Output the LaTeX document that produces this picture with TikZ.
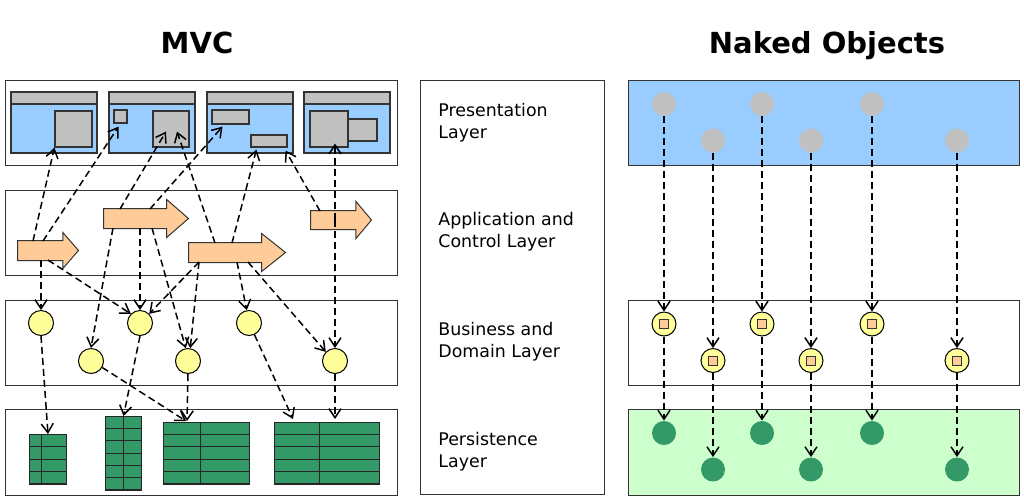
\documentclass[tikz,border=0pt]{standalone}
\usepackage{fontspec}
\setmainfont{DejaVu Sans}
\usetikzlibrary{arrows.meta,calc,shapes.arrows}
\definecolor{scrblue}{HTML}{99CCFF}
\definecolor{wgray}{HTML}{C0C0C0}
\definecolor{ctrlorange}{HTML}{FFCC99}
\definecolor{bizyellow}{HTML}{FFFF99}
\definecolor{dbgreen}{HTML}{339966}
\definecolor{palegreen}{HTML}{CCFFCC}
\begin{document}
\begin{tikzpicture}[x=0.5pt,y=-0.5pt,
  layer/.style={draw=black!80,line width=0.5pt},
  widget/.style={draw=black!80,fill=wgray,inner sep=0pt,line width=0.6pt},
  ctrl/.style={single arrow,draw=black!80,fill=ctrlorange,inner xsep=0pt,inner ysep=4.75pt,anchor=tail,line width=0.5pt},
  bizobj/.style={circle,draw=black,fill=bizyellow,inner sep=0pt,minimum size=12.5pt,line width=0.5pt},
  objcore/.style={draw=black!80,fill=ctrlorange,inner sep=0pt,minimum size=4.5pt,line width=0.5pt},
  uiobj/.style={circle,fill=wgray,inner sep=0pt,minimum size=12pt},
  dbobj/.style={circle,fill=dbgreen,inner sep=0pt,minimum size=12pt},
  dbtable/.style={draw=black!85,fill=dbgreen,inner sep=0pt,anchor=north west,line width=0.5pt},
  link/.style={-{Straight Barb[length=4.5pt,width=6pt]},dash pattern=on 3.5pt off 2pt,line width=0.75pt},
  lbl/.style={anchor=base west,align=left,inner sep=0pt,font=\fontsize{8.7}{11}\selectfont},
  ttl/.style={anchor=base,inner sep=0pt,font=\fontsize{14.5}{17}\selectfont\bfseries}]
\useasboundingbox (0,0) rectangle (1024,500);
\node[ttl] (mvc) at (197,53) {MVC};
\node[ttl] (nkd) at (827,53) {Naked Objects};
\draw[layer] (5,80) rectangle (397,165) (5,190) rectangle (397,275)
  (5,300) rectangle (397,385) (5,409) rectangle (397,495);
\draw[layer] (420,80) rectangle (604,494);
\draw[layer,fill=scrblue] (628,80) rectangle (1019,165);
\draw[layer] (628,300) rectangle (1019,385);
\draw[layer,fill=palegreen] (628,409) rectangle (1019,495);
\node[lbl] (lp) at (438,138) {Presentation\\Layer};
\node[lbl] (la) at (438,247) {Application and\\Control Layer};
\node[lbl] (lb) at (438,357) {Business and\\Domain Layer};
\node[lbl] (lq) at (438,467) {Persistence\\Layer};
\foreach \x in {11,109,207,304}{
  \fill[scrblue] (\x,92) rectangle ++(86,61);
  \fill[wgray] (\x,92) rectangle ++(86,12);
  \draw[black!80,line width=0.6pt] (\x,92) rectangle ++(86,61) (\x,104) -- ++(86,0);
}
\node[widget,minimum width=18.5pt,minimum height=18pt] (sq1) at (73.5,129) {};
\node[widget,minimum width=6.5pt,minimum height=6.5pt] (sq2a) at (120.5,116.5) {};
\node[widget,minimum width=18pt,minimum height=18pt] (sq2b) at (171,129) {};
\node[widget,minimum width=18.5pt,minimum height=7pt] (sq3a) at (230.5,117) {};
\node[widget,minimum width=18pt,minimum height=6pt] (sq3b) at (269,141) {};
\node[widget,minimum width=14.5pt,minimum height=11pt] (sq4b) at (362.5,130) {};
\node[widget,minimum width=19pt,minimum height=18pt] (sq4a) at (329,129) {};
\node[ctrl,minimum height=30.5pt,single arrow head extend=4pt,single arrow tip angle=98] (a1) at (17,250.5) {};
\node[ctrl,minimum height=42.5pt,single arrow head extend=4.5pt,single arrow tip angle=82] (a2) at (103,218.5) {};
\node[ctrl,minimum height=48.5pt,single arrow head extend=4.5pt,single arrow tip angle=77] (a3) at (188,252.5) {};
\node[ctrl,minimum height=30.5pt,inner ysep=4.5pt,single arrow head extend=4.5pt,single arrow tip angle=100] (a4) at (310,220) {};
\foreach \n/\x/\y in {c1/41/323,c2/140/323,c3/249/323,c4/91/361,c5/188/361,c6/335/361}
  \node[bizobj] (\n) at (\x,\y) {};
\foreach \n/\x/\y/\w/\h/\c/\r in {t1/29/434/37/49/12/4,t2/105/416/36/73/18/6,t3/163/422/86/61/37/5,t4/274/422/105/61/45/5}{
  \node[dbtable,minimum width=\w*0.5pt,minimum height=\h*0.5pt] (\n) at (\x,\y) {};
  \draw[black!85,line width=0.5pt] ($(\n.north west)+(\c,0)$) -- ($(\n.south west)+(\c,0)$);
  \foreach \k in {1,...,\r}
    \draw[black!85,line width=0.5pt] ($(\n.north west)!\k/\r!(\n.south west)$) -- ($(\n.north east)!\k/\r!(\n.south east)$);
}
\draw[link] ($(a1.tail)+(16,-9.5)$) -- (sq1.south west);
\draw[link] ($(a1.tail)+(26,-9.5)$) -- ($(sq2a.south)+(-2,3)$);
\draw[link] ($(a1.tail)+(24,9.5)$) -- (c1.north);
\draw[link] ($(a1.tail)+(31,9.5)$) -- (c2.north west);
\draw[link] ($(a2.tail)+(17,-9.5)$) -- ($(sq2b.south)+(-5,-16)$);
\draw[link] ($(a2.tail)+(47,-9.5)$) -- ($(sq3a.south)+(-8,2)$);
\draw[link] ($(a2.tail)+(10,9.5)$) -- (c4.north);
\draw[link] ($(a2.tail)+(37,9.5)$) -- (c2.north);
\draw[link] ($(a2.tail)+(49,9.5)$) -- (c5.100);
\draw[link] ($(a3.tail)+(27,-9.5)$) -- ($(sq2b.south)+(6,-16)$);
\draw[link] ($(a3.tail)+(44,-9.5)$) -- ($(sq3b.south west)+(6,2)$);
\draw[link] ($(a3.tail)+(11,9.5)$) -- (c2.north east);
\draw[link] ($(a3.tail)+(11,9.5)$) -- (c5.80);
\draw[link] ($(a3.tail)+(49,9.5)$) -- (c3.100);
\draw[link] ($(a3.tail)+(60,9.5)$) -- (c6.north west);
\draw[link] ($(a4.tail)+(10,-9)$) -- ($(sq3b.south east)+(-2,3)$);
\draw[link] ($(a4.tail)+(25,0)$) -- ($(sq4a.south)+(6,-4)$);
\draw[link] ($(a4.tail)+(25,0)$) -- (c6.north);
\draw[link] (c1.south) -- (t1.north);
\draw[link] (c2.south) -- (t2.north);
\draw[link] (c4.-30) -- ($(t3.north west)+(23,-1)$);
\draw[link] (c5.south) -- ($(t3.north west)+(24,-1)$);
\draw[link] (c3.-65) -- ($(t4.north west)+(19,-3)$);
\draw[link] (c6.south) -- ($(t4.north west)+(61,-3)$);
\foreach \i/\x/\d in {1/664/0,2/713/36.5,3/762/0,4/811/36.5,5/872/0,6/957/36.5}{
  \node[uiobj] (u\i) at (\x,104+\d) {};
  \node[bizobj,minimum size=12pt] (b\i) at (\x,324+\d) {};
  \node[objcore] (k\i) at (b\i) {};
  \node[dbobj] (p\i) at (\x,433+\d) {};
  \draw[link] (u\i) -- (b\i);
  \draw[link] (b\i) -- (p\i);
}
\end{tikzpicture}
\end{document}
